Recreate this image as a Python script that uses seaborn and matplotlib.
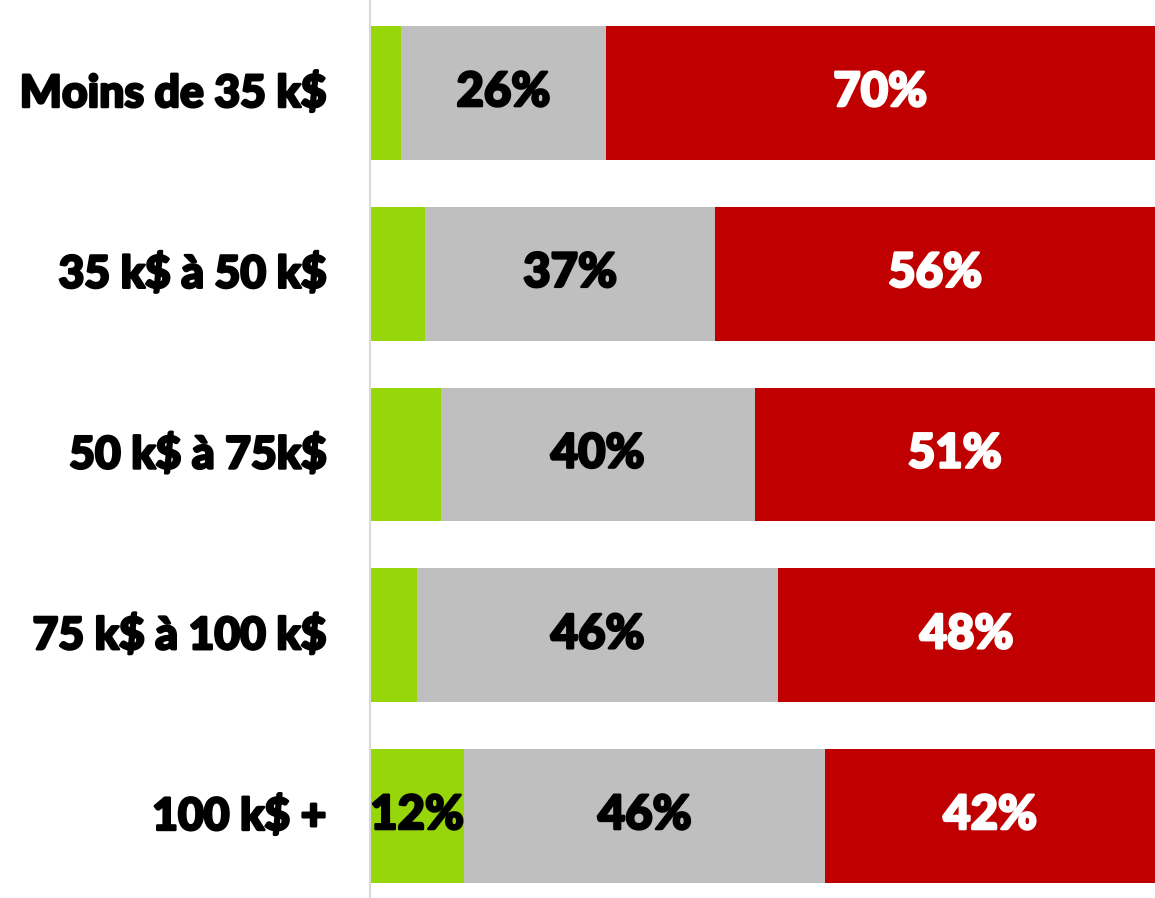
import numpy as np
import pandas as pd
import matplotlib
matplotlib.use("Agg")
import matplotlib.pyplot as plt
import matplotlib.patheffects as pe
import matplotlib.transforms as mtransforms
import seaborn as sns

# data
categories = ["Moins de 35 k$", "35 k$ à 50 k$", "50 k$ à 75k$", "75 k$ à 100 k$", "100 k$ +"]
green_vals = [4, 7, 9, 6, 12]
grey_vals = [26, 37, 40, 46, 46]
red_vals = [70, 56, 51, 48, 42]
show_green = [False, False, False, False, True]

GREEN = "#97d60b"
GREY = "#bfbfbf"
RED = "#c00000"

sns.set_theme(style="white")
plt.rcParams["font.family"] = ["Lato", "DejaVu Sans"]
plt.rcParams["text.parse_math"] = False

df = pd.DataFrame({"cat": categories, "green": green_vals, "grey": grey_vals, "red": red_vals})
df["g_end"] = df["green"]
df["gr_end"] = df["green"] + df["grey"]
df["r_end"] = df["gr_end"] + df["red"]

fig = plt.figure(figsize=(11.55, 8.98), dpi=100)
ax = fig.add_axes([370 / 1155, 0, 785 / 1155, 1])

bar_w = 0.74
# stacked bars drawn as cumulative layers, widest first
sns.barplot(data=df, x="r_end", y="cat", orient="h", color=RED, width=bar_w,
            saturation=1, linewidth=0, ax=ax)
sns.barplot(data=df, x="gr_end", y="cat", orient="h", color=GREY, width=bar_w,
            saturation=1, linewidth=0, ax=ax)
sns.barplot(data=df, x="g_end", y="cat", orient="h", color=GREEN, width=bar_w,
            saturation=1, linewidth=0, ax=ax)

fs_pct = 34
fs_cat = 32


def heavy(color):
    return [pe.withStroke(linewidth=1.8, foreground=color)]


for i, row in df.iterrows():
    if show_green[i]:
        ax.text(row["g_end"] / 2, i - 0.005, f"{row['green']}%", ha="center", va="center",
                fontsize=fs_pct, fontweight="black", color="black", path_effects=heavy("black"))
    ax.text(row["g_end"] + row["grey"] / 2, i - 0.005, f"{row['grey']}%", ha="center", va="center",
            fontsize=fs_pct, fontweight="black", color="black", path_effects=heavy("black"))
    ax.text(row["gr_end"] + row["red"] / 2, i - 0.005, f"{row['red']}%", ha="center", va="center",
            fontsize=fs_pct, fontweight="black", color="white", path_effects=heavy("white"))

ax.set_xlim(0, 100)
ax.set_ylim(4.454, -0.5145)
ax.set_xlabel("")
ax.set_ylabel("")
ax.set_xticks([])
ax.tick_params(axis="y", length=0, pad=31)
shift = mtransforms.ScaledTranslation(0, 3 / 100, fig.dpi_scale_trans)
for lab in ax.get_yticklabels():
    lab.set_fontsize(fs_cat)
    lab.set_fontweight("black")
    lab.set_color("black")
    lab.set_path_effects(heavy("black"))
    lab.set_transform(lab.get_transform() + shift)

for s in ["top", "right", "bottom"]:
    ax.spines[s].set_visible(False)
ax.spines["left"].set_color("#d9d9d9")
ax.spines["left"].set_linewidth(1.5)

fig.savefig("out.png", dpi=100)
